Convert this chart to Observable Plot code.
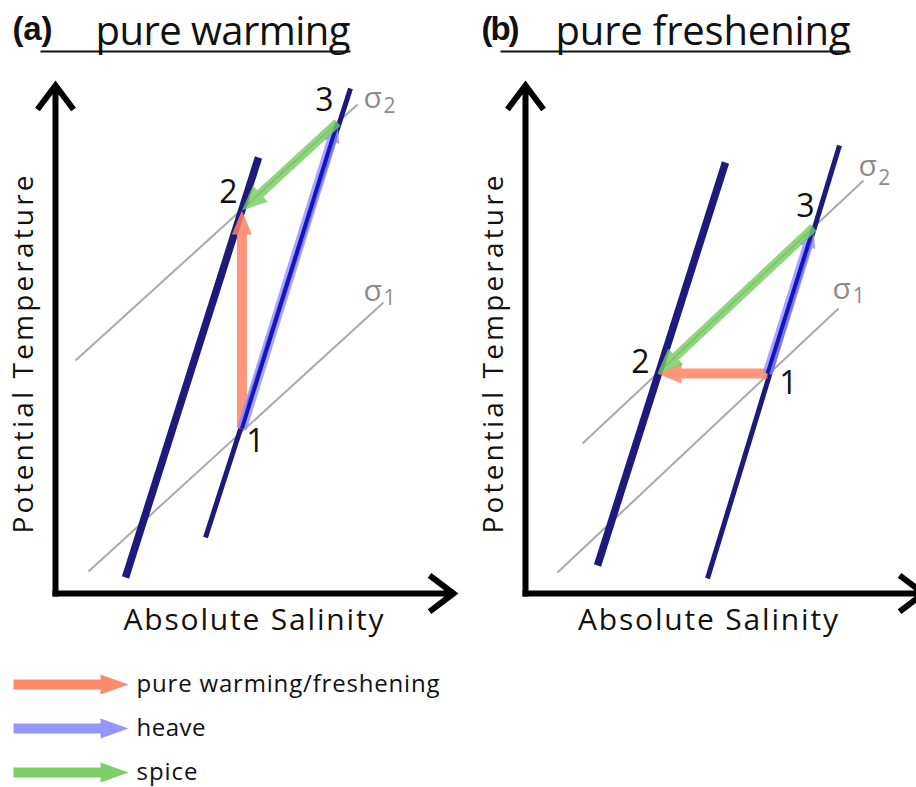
<!DOCTYPE html>
<html><head><meta charset="utf-8">
<script src="https://cdn.jsdelivr.net/npm/d3@7"></script>
<script src="https://cdn.jsdelivr.net/npm/@observablehq/plot@0.6"></script>
<style>
body{margin:0;background:#fff;overflow:hidden}
#fig{width:916px;height:787px;position:relative;overflow:hidden;background:#fff}
#row{display:flex;height:650px}
#row svg,#leg svg{flex:none}
</style></head><body><div id="fig"><div id="row"></div><div id="leg"></div></div>
<script>
// ---------- data (schematic units: S = salinity, T = temperature) ----------
const tags = ["(a)", "(b)"];
const titles = ["pure warming", "pure freshening"];
const xLabel = "Absolute Salinity";
const yLabel = "Potential Temperature";
const legendLabels = ["pure warming/freshening", "heave", "spice"];

// isopycnal-like navy lines [S1,T1,S2,T2]: thick (left), thin (right)
const isoA = [[1.75, 0.4, 5.075, 10.9], [3.75, 1.4, 7.375, 12.625]];
const isoB = [[1.8, 0.7, 5.0, 10.775], [4.55, 0.375, 7.85, 11.2]];
// sigma contours [S1,T1,S2,T2]: sigma1, sigma2
const sigmaA = [[0.825, 0.55, 8.2, 7.275], [0.5, 5.825, 7.55, 12.225]];
const sigmaB = [[0.8, 0.525, 7.825, 7.125], [1.425, 3.75, 8.45, 10.325]];
// state points 1,2,3
const pointsA = {"1": [4.66, 4.125], "2": [4.66, 9.575], "3": [7.05, 11.775]};
const pointsB = {"1": [6.05, 5.5], "2": [3.3, 5.5], "3": [7.2, 9.15]};
// point labels [text, S, T]
const digitsA = [["1", 5.0, 3.8], ["2", 4.325, 10.025], ["3", 6.725, 12.325]];
const digitsB = [["1", 6.575, 5.25], ["2", 2.875, 5.775], ["3", 7.0, 9.675]];
// sigma labels [sub, S, T, subS, subT]
const sigLabA = [["1", 7.7, 7.565, 8.2, 7.37], ["2", 7.7, 12.39, 8.2, 12.19]];
const sigLabB = [["1", 7.675, 7.615, 8.18, 7.42], ["2", 8.325, 10.69, 8.82, 10.37]];
// decomposition arrows [from, to]
const pureArrow = ["1", "2"];
const heaveArrow = ["1", "3"];
const spiceArrow = ["3", "2"];

// ---------- styling ----------
const PX = 40;
const FONT = "'Open Sans', 'DejaVu Sans', sans-serif";
const NAVY = "#1d1a7c";
const RED = "#ff8364", LBLUE = "#9090ff", GREEN = "#74cc5e";
const sRed = {color: RED, op: 0.85, sw: 10, hw: 20, hl: 24};
const sHeave = {color: LBLUE, op: 0.8, sw: 10, hw: 16, hl: 20};
const sSpice = {color: GREEN, op: 0.8, sw: 9, hw: 22, hl: 25};

const arrowShape = (sw, hw, hl) => ({
  draw(c, l) {
    const h = Math.min(hl, l * 0.5), b = l - h;
    c.moveTo(-sw / 2, 0);
    c.lineTo(-sw / 2, -b);
    c.lineTo(-hw / 2, -b);
    c.lineTo(0, -l);
    c.lineTo(hw / 2, -b);
    c.lineTo(sw / 2, -b);
    c.lineTo(sw / 2, 0);
    c.closePath();
  }
});
function arrowMark(p, q, st) {
  const dS = q[0] - p[0], dT = q[1] - p[1];
  return Plot.vector([{S: p[0], T: p[1]}], {
    x: "S", y: "T", anchor: "start",
    length: Math.hypot(dS, dT) * PX,
    rotate: Math.atan2(dS, dT) * 180 / Math.PI,
    shape: arrowShape(st.sw, st.hw, st.hl),
    fill: st.color, fillOpacity: st.op, stroke: "none"
  });
}
const seg = {x1: d => d[0], y1: d => d[1], x2: d => d[2], y2: d => d[3]};

function panel(i, cfg) {
  const P = cfg.points;
  return Plot.plot({
    width: cfg.width, height: 650, margin: 0,
    style: {background: "white", overflow: "visible"},
    x: {domain: [0, 10], range: [cfg.origin, cfg.origin + 10 * PX], axis: null},
    y: {domain: [0, 13], range: [593, 593 - 13 * PX], axis: null},
    marks: [
      Plot.link(cfg.sigma, {...seg, stroke: "#a9a9a9", strokeWidth: 2}),
      Plot.link([cfg.iso[0]], {...seg, stroke: NAVY, strokeWidth: 7.5}),
      Plot.link([cfg.iso[1]], {...seg, stroke: NAVY, strokeWidth: 5}),
      arrowMark(P[pureArrow[0]], P[pureArrow[1]], sRed),
      arrowMark(P[heaveArrow[0]], P[heaveArrow[1]], sHeave),
      Plot.link([[...P[heaveArrow[0]], ...P[heaveArrow[1]]]], {...seg, stroke: "#1414c2", strokeWidth: 4}),
      arrowMark(P[spiceArrow[0]], P[spiceArrow[1]], sSpice),
      // axes
      Plot.arrow([[-0.075, 0, 9.95, 0], [0, -0.075, 0, 12.7]], {
        ...seg, stroke: "#000", strokeWidth: 6, headLength: 7.5, headAngle: 74,
        strokeLinejoin: "miter", strokeLinecap: "butt", strokeMiterlimit: 10
      }),
      // title
      Plot.text([tags[i]], {x: cfg.tagS, y: 14.1, text: d => d, textAnchor: "start", fontSize: 33, fontWeight: "bold", fontFamily: "'Liberation Sans', Arial, sans-serif", fill: "#111"}),
      Plot.text([titles[i]], {x: cfg.titleS, y: 14.025, text: d => d, textAnchor: "start", fontSize: 40, fontFamily: FONT, fill: "#111"}),
      Plot.link([cfg.underline], {...seg, stroke: "#111", strokeWidth: 2}),
      // axis labels
      Plot.text([xLabel], {x: cfg.xLabS, y: -0.675, text: d => d, fontSize: 30, fontFamily: FONT, fill: "#111"}),
      Plot.text([yLabel], {x: -0.775, y: 5.975, text: d => d, rotate: -90, fontSize: 28, fontFamily: FONT, fill: "#111"}),
      // point labels
      Plot.text(cfg.digits, {x: d => d[1], y: d => d[2], text: d => d[0], fontSize: 32, fontFamily: FONT, fill: "#111"}),
      // sigma labels
      Plot.text(cfg.sigLab, {x: d => d[1], y: d => d[2], text: () => "σ", textAnchor: "start", fontSize: 30, fontFamily: FONT, fill: "#8c8c8c"}),
      Plot.text(cfg.sigLab, {x: d => d[3], y: d => d[4], text: d => d[0], textAnchor: "start", fontSize: 21, fontFamily: FONT, fill: "#8c8c8c"})
    ]
  });
}

const lengths = {
  "(a)": 40, "(b)": 38,
  "pure warming": 255, "pure freshening": 295,
  "Absolute Salinity": 260, "Potential Temperature": 358,
  "pure warming/freshening": 303, "heave": 69, "spice": 61
};
function fit(svg) {
  svg.querySelectorAll("text").forEach(t => {
    const L = lengths[t.textContent];
    if (L) { t.setAttribute("textLength", L); t.setAttribute("lengthAdjust", "spacing"); }
  });
  return svg;
}

const row = document.getElementById("row");
row.append(fit(panel(0, {
  width: 469, origin: 55, iso: isoA, sigma: sigmaA, points: pointsA, digits: digitsA, sigLab: sigLabA,
  tagS: -1.075, titleS: 1.0, underline: [-0.375, 13.55, 7.375, 13.55], xLabS: 4.95
})));
row.append(fit(panel(1, {
  width: 447, origin: 56, iso: isoB, sigma: sigmaB, points: pointsB, digits: digitsB, sigLab: sigLabB,
  tagS: -1.1, titleS: 0.75, underline: [-0.625, 13.55, 8.125, 13.55], xLabS: 4.5625
})));

// ---------- legend ----------
const legColors = [sRed, sHeave, sSpice];
const legendData = legendLabels.map((label, k) => ({label, st: legColors[k]}));
const legend = Plot.plot({
  width: 460, height: 137, margin: 0,
  style: {background: "white", overflow: "visible"},
  x: {domain: [0, 1], range: [13, 128], axis: null},
  y: {type: "point", domain: legendLabels, range: [33, 122], padding: 0, axis: null},
  marks: [
    ...legendData.map(d => Plot.vector([d], {
      x: () => 0, y: "label", anchor: "start", length: 115, rotate: 90,
      shape: arrowShape(10, 20, 28), fill: d.st.color, fillOpacity: 0.95, stroke: "none"
    })),
    Plot.text(legendData, {x: () => 1, y: "label", text: "label", dx: 8, textAnchor: "start", fontSize: 24, fontFamily: FONT, fill: "#111"})
  ]
});
document.getElementById("leg").append(fit(legend));
</script></body></html>
